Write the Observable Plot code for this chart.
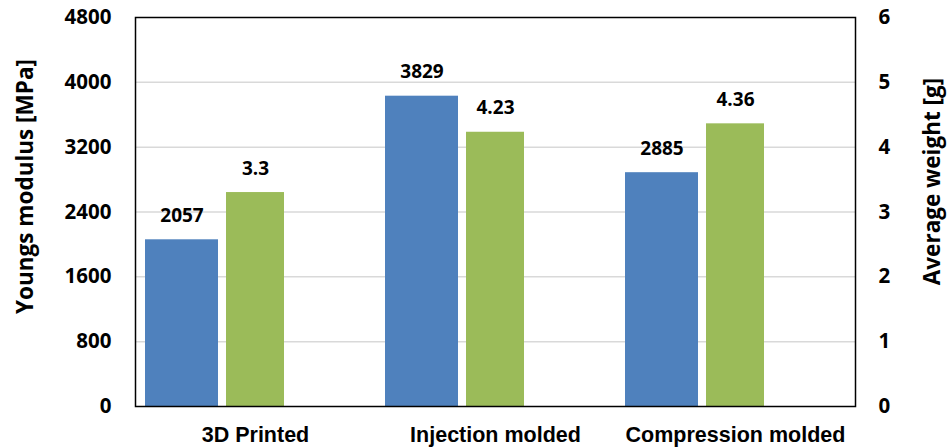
<!DOCTYPE html>
<html><head><meta charset="utf-8">
<script src="https://cdn.jsdelivr.net/npm/d3@7"></script>
<script src="https://cdn.jsdelivr.net/npm/@observablehq/plot@0.6"></script>
<style>
body{margin:0;background:#fff}
#chart svg{font-family:"Open Sans",sans-serif}
g[aria-label="x-axis tick label"] text{font-family:"Liberation Sans",Arial,sans-serif}
</style></head><body><div id="chart"></div>
<script>
const categories = ["3D Printed", "Injection molded", "Compression molded"];
const youngsModulus = [2057, 3829, 2885];
const avgWeight = [3.3, 4.23, 4.36];
const leftTicks = [0, 800, 1600, 2400, 3200, 4000, 4800];
const rightTicks = [0, 1, 2, 3, 4, 5, 6];
const leftTitle = "Youngs modulus [MPa]";
const rightTitle = "Average weight [g]";

const ratio = leftTicks[leftTicks.length - 1] / rightTicks[rightTicks.length - 1];
const blue = categories.map((c, i) => ({cat: c, v: youngsModulus[i], label: String(youngsModulus[i])}));
const green = categories.map((c, i) => ({cat: c, v: avgWeight[i] * ratio, label: String(avgWeight[i])}));

const chart = Plot.plot({
  width: 952, height: 447,
  marginLeft: 135, marginRight: 97, marginTop: 17, marginBottom: 41,
  x: {type: "band", domain: categories, padding: 0},
  y: {domain: [0, 4800]},
  marks: [
    Plot.ruleY(leftTicks.slice(1, -1), {stroke: "#d9d9d9", strokeWidth: 1.5}),
    Plot.barY(blue, {x: "cat", y: "v", fill: "#4f81bd", insetLeft: 10, insetRight: 157}),
    Plot.barY(green, {x: "cat", y: "v", fill: "#9bbb59", insetLeft: 91, insetRight: 91}),
    Plot.text(blue, {x: "cat", y: "v", text: "label", dx: -73.5, dy: -18, lineAnchor: "bottom", fontSize: 19, fontWeight: "bold", fill: "#000"}),
    Plot.text(green, {x: "cat", y: "v", text: "label", dx: 0, dy: -18, lineAnchor: "bottom", fontSize: 19, fontWeight: "bold", fill: "#000"}),
    Plot.frame({stroke: "#000", strokeWidth: 1.5}),
    Plot.axisX({tickSize: 0, tickPadding: 20, label: null, fontSize: 21.5, fontWeight: "bold", fill: "#000"}),
    Plot.axisY({anchor: "left", ticks: leftTicks, tickFormat: d => String(d), tickSize: 0, tickPadding: 24, label: null, fontSize: 20.5, fontWeight: "bold", fill: "#000"}),
    Plot.axisY({anchor: "right", ticks: rightTicks.map(t => t * ratio), tickFormat: d => String(d / ratio), tickSize: 0, tickPadding: 23, label: null, fontSize: 20.5, fontWeight: "bold", fill: "#000"}),
    Plot.text([leftTitle], {frameAnchor: "left", textAnchor: "middle", dx: -110, dy: -25.5, rotate: -90, fontSize: 22.5, fontWeight: "bold", fill: "#000"}),
    Plot.text([rightTitle], {frameAnchor: "right", textAnchor: "middle", dx: 77, dy: -30.5, rotate: -90, fontSize: 22.5, fontWeight: "bold", fill: "#000"})
  ]
});
document.getElementById("chart").append(chart);
</script></body></html>
